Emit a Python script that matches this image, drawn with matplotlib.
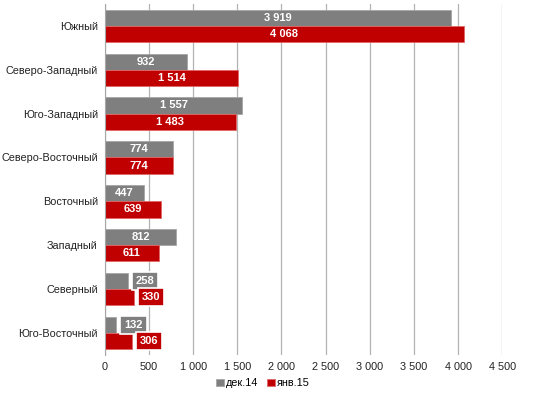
import numpy as np
import matplotlib.pyplot as plt

plt.rcParams['font.family'] = 'Liberation Sans'

regions = ["Южный", "Северо-Западный", "Юго-Западный", "Северо-Восточный",
           "Восточный", "Западный", "Северный", "Юго-Восточный"]
dec14 = [3919, 932, 1557, 774, 447, 812, 258, 132]
jan15 = [4068, 1514, 1483, 774, 639, 611, 330, 306]
series_names = ["дек.14", "янв.15"]
colors = ["#7f7f7f", "#c00000"]
edges = ["#a6a6a6", "#e06666"]


def fmt(v):
    return f"{v:,}".replace(",", " ")


fig = plt.figure(figsize=(5.4, 3.96), dpi=100)
ax = fig.add_axes([0.194, 0.104, 0.736, 0.886])

y = np.arange(len(regions))
h = 0.37
for k, vals in enumerate([dec14, jan15]):
    pos = y - h / 2 if k == 0 else y + h / 2
    bars = ax.barh(pos, vals, height=h, color=colors[k], edgecolor=edges[k],
                   linewidth=0.6, label=series_names[k], zorder=2)
    for b, v in zip(bars, vals):
        yc = b.get_y() + b.get_height() / 2
        if v > 400:
            ax.text(v / 2, yc, fmt(v), ha='center', va='center', color='white',
                    fontsize=8, fontweight='bold', zorder=3)
        else:
            ax.text(v + 90, yc, fmt(v), ha='left', va='center', color='white',
                    fontsize=8, fontweight='bold', zorder=3,
                    bbox=dict(boxstyle='square,pad=0.35', fc=colors[k],
                              ec='white', lw=1.2))

ax.set_xlim(0, 4500)
ax.set_ylim(len(regions) - 0.5, -0.5)
ax.set_xticks(np.arange(0, 4501, 500))
ax.set_xticklabels([fmt(v) for v in range(0, 4501, 500)])
ax.set_yticks(y)
ax.set_yticklabels(regions)
ax.tick_params(length=0, labelsize=7.8, colors='#222222', pad=5)
ax.grid(axis='x', color='#b3b3b3', lw=0.9, zorder=0)
for s in ['top', 'right', 'bottom']:
    ax.spines[s].set_visible(False)
ax.spines['left'].set_color('#a6a6a6')
ax.spines['left'].set_zorder(4)

fig.legend(loc='lower center', bbox_to_anchor=(0.487, -0.005), ncol=2,
           frameon=False, fontsize=7.8, handlelength=0.7, handleheight=0.7,
           handletextpad=0.2, columnspacing=0.8)

fig.savefig("out.png", dpi=100)
